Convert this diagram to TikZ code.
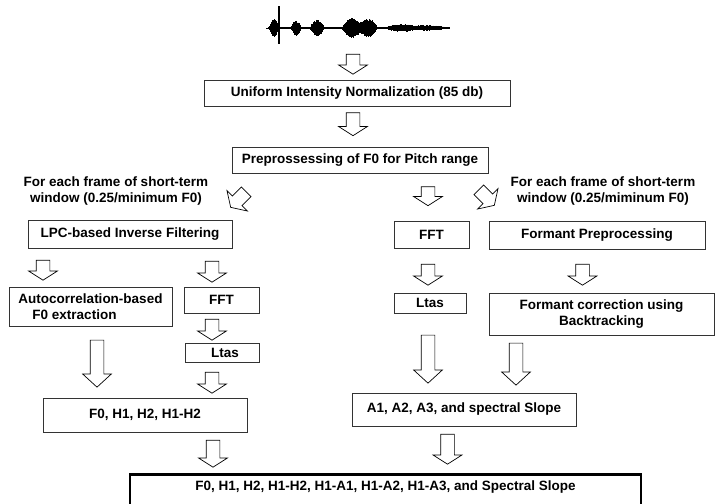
\documentclass[tikz,border=0pt]{standalone}
\usepackage{fontspec}
\setmainfont{Liberation Sans}
\usetikzlibrary{shapes.arrows}

\begin{document}
\begin{tikzpicture}[x=1pt,y=-1pt,
    every node/.style={font=\fontsize{13.5}{16}\selectfont\bfseries},
    box/.style 2 args={draw=black!80, line width=0.8pt, inner sep=0pt, minimum width=#1, minimum height=#2},
    darr/.style={single arrow, draw, line width=0.7pt, fill=white, inner xsep=0pt, inner ysep=6.5pt,
        minimum width=28pt, single arrow head extend=7.5pt, single arrow tip angle=115, rotate=-90, minimum height=#1},
    bigarr/.style={darr=#1, single arrow tip angle=95}]
            \useasboundingbox (0,0) rectangle (716,504);

            % speech waveform
            \pgfmathsetseed{3}
            \foreach \x in {268,268.5,...,449} {
                \pgfmathsetmacro\amp{0.8 + 8*max(0,1-((\x-274)/5)^2) + 7*max(0,1-((\x-296)/5)^2) + 7.5*max(0,1-((\x-317)/7)^2)
                    + 9.5*max(0,1-((\x-352)/10)^2) + 9*max(0,1-((\x-368)/9)^2) + 3*max(0,1-((\x-400)/14)^2) + 2*max(0,1-((\x-425)/22)^2)}
                \pgfmathsetmacro\up{\amp*(0.7+0.3*rnd)}
                \pgfmathsetmacro\dn{\amp*(0.7+0.3*rnd)}
                \draw[line width=0.7pt] (\x,28-\up) -- (\x,28+\dn);
            }
            \draw[line width=2.4pt] (279,6) -- (279,44);
            \draw[line width=0.6pt] (266,28) -- (449,28);

            % common trunk
            \node[darr=20] (ar1) at (353,62) {};
            \node[box={306}{26}] (norm) at (357,93) {Uniform Intensity Normalization (85 db)};
            \node[darr=23] (ar2) at (353,122) {};
            \node[box={256}{26}] (pitch) at (360,160) {Preprossessing of F0 for Pitch range};
            \node[darr=19] (ar3) at (428,194) {};
            \node[align=center] (winL) at (116,191) {For each frame of short-term\\window (0.25/minimum F0)};
            \node[align=center] (winR) at (603,191) {For each frame of short-term\\window (0.25/miminum F0)};
            \node[darr=22, rotate=-45] (ar4) at (240,198) {};
            \node[darr=22, rotate=45] (ar5) at (485,196) {};

            % voice source branch
            \node[box={204}{28}] (lpc) at (130,234) {LPC-based Inverse Filtering};
            \node[darr=20] (ar6) at (43,268) {};
            \node[darr=21] (ar7) at (212,269.5) {};
            \node[box={163}{39}, align=left] (autoc) at (90.5,306.5) {Autocorrelation-based\\\hspace*{14pt}F0 extraction};
            \node[box={75}{26}] (fftL) at (221.5,300) {FFT};
            \node[darr=21] (ar8) at (212,327.5) {};
            \node[box={74}{19}] (ltasL) at (222,352.5) {\hspace*{6pt}Ltas};
            \node[bigarr=47] (ar9) at (97,360.5) {};
            \node[darr=21] (ar10) at (212,380.5) {};
            \node[box={204}{34}] (harm) at (145,415) {F0, H1, H2, H1-H2};
            \node[darr=27] (ar11) at (213,451.5) {};

            % spectral branch
            \node[box={75}{27}] (fftR) at (431.5,234.5) {FFT};
            \node[box={216}{28}] (fpre) at (597,235) {Formant Preprocessing};
            \node[darr=21] (ar12) at (428,272.5) {};
            \node[darr=21] (ar13) at (582.5,272.5) {};
            \node[box={72}{20}] (ltasR) at (430,303) {Ltas};
            \node[box={225}{42}, align=center] (fcor) at (601.5,314) {Formant correction using\\Backtracking};
            \node[bigarr=48] (ar14) at (428,356) {};
            \node[bigarr=42] (ar15) at (516,361) {};
            \node[box={224}{33}] (amps) at (464,409.5) {A1, A2, A3, and spectral Slope};
            \node[darr=30] (ar16) at (447.5,447) {};

            % output
            \node[draw, line width=2.5pt, minimum width=511pt, inner ysep=6pt, text height=10pt, text depth=22pt, anchor=north] (out) at (385.5,473)
                {F0, H1, H2, H1-H2, H1-A1, H1-A2, H1-A3, and Spectral Slope};
\end{tikzpicture}
\end{document}
